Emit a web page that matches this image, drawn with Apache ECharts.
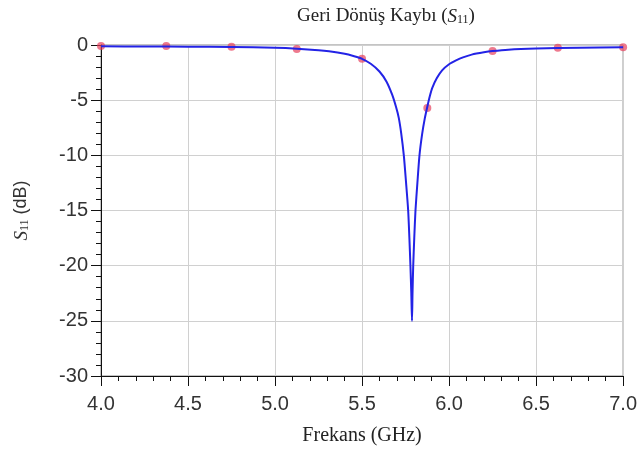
<!DOCTYPE html>
<html><head><meta charset="utf-8">
<script src="https://cdn.jsdelivr.net/npm/echarts@6/dist/echarts.min.js"></script>
<style>html,body{margin:0;padding:0;background:#fff}#c{width:640px;height:451px}</style>
</head><body><div id="c"></div>
<script>
// Continuous S11 curve (frequency GHz, dB)
const curveFreq = [4.0,4.25,4.5,4.75,5.0,5.125,5.25,5.31,5.4,5.45,5.5,5.55,5.6,5.64,5.673,5.695,5.711,5.725,5.74,5.753,5.765,5.772,5.778,5.783,5.787,5.79,5.794,5.8,5.807,5.818,5.83,5.845,5.86,5.875,5.89,5.903,5.93,5.96,6.0,6.04,6.08,6.13,6.2,6.25,6.34,6.5,6.75,7.0];
const curveS11  = [-0.12,-0.13,-0.15,-0.18,-0.26,-0.34,-0.47,-0.57,-0.8,-1.0,-1.25,-1.7,-2.4,-3.3,-4.5,-5.6,-6.6,-8.0,-10.0,-12.5,-15.0,-17.5,-20.0,-22.5,-25.0,-22.5,-20.0,-17.5,-15.0,-12.5,-10.0,-8.1,-6.7,-5.6,-4.6,-3.9,-3.0,-2.3,-1.75,-1.4,-1.12,-0.87,-0.66,-0.55,-0.42,-0.32,-0.25,-0.2];
// Marker points
const markFreq = [4.0,4.375,4.75,5.125,5.5,5.875,6.25,6.625,7.0];
const markS11  = [-0.1,-0.1,-0.15,-0.36,-1.25,-5.7,-0.55,-0.25,-0.2];
const xTicks = [4.0,4.5,5.0,5.5,6.0,6.5,7.0];
const yTicks = [0,-5,-10,-15,-20,-25,-30];

const chart = echarts.init(document.getElementById('c'));
chart.setOption({
  backgroundColor:'#fff',
  animation:false,
  title:{
    text:'{a|Geri Dönüş Kaybı (}{s|S}{b|11}{a|)}',
    left:381, textAlign:'center', top:2,
    textStyle:{fontWeight:'normal',rich:{
      a:{fontFamily:'Liberation Serif',fontSize:19,color:'#222'},
      s:{fontFamily:'Liberation Serif',fontStyle:'italic',fontSize:19,color:'#222'},
      b:{fontFamily:'Liberation Serif',fontSize:12,color:'#222',verticalAlign:'bottom',padding:[7,0,0,0]}
    }}
  },
  grid:{left:101,right:15,top:45,bottom:75,show:true,borderColor:'#888',borderWidth:1},
  xAxis:{
    type:'value',min:4,max:7,interval:0.5,
    name:'Frekans (GHz)',nameLocation:'middle',nameGap:50,
    nameTextStyle:{fontFamily:'Liberation Serif',fontSize:20,color:'#222'},
    axisLine:{onZero:false,lineStyle:{color:'#111',width:1}},
    axisTick:{show:true,inside:false,length:10,lineStyle:{color:'#111'}},
    minorTick:{show:true,splitNumber:5,length:5,lineStyle:{color:'#111'}},
    axisLabel:{fontFamily:'Liberation Sans',fontSize:20,color:'#333',margin:18,
      formatter:v=>{const t=xTicks.find(x=>Math.abs(x-v)<1e-6);return t!==undefined?t.toFixed(1):'';}},
    splitLine:{show:true,lineStyle:{color:'#d0d0d0'}}
  },
  yAxis:{
    type:'value',min:-30,max:0,interval:5,
    name:'{s|S}{b|11}{a| (dB)}',nameLocation:'middle',nameGap:70,nameRotate:90,
    nameTextStyle:{rich:{
      a:{fontFamily:'Liberation Sans',fontSize:18,color:'#333'},
      s:{fontFamily:'Liberation Serif',fontStyle:'italic',fontSize:19,color:'#333'},
      b:{fontFamily:'Liberation Serif',fontSize:12,color:'#333',verticalAlign:'bottom',padding:[7,0,0,0]}
    }},
    axisLine:{show:true,onZero:false,lineStyle:{color:'#111',width:1}},
    axisTick:{show:true,inside:false,length:10,lineStyle:{color:'#111'}},
    minorTick:{show:true,splitNumber:5,length:5,lineStyle:{color:'#111'}},
    axisLabel:{fontFamily:'Liberation Sans',fontSize:20,color:'#333',margin:13,
      formatter:v=>yTicks.includes(v)?String(v):''},
    splitLine:{show:true,lineStyle:{color:'#d0d0d0'}}
  },
  series:[
    {type:'scatter',data:markFreq.map((f,i)=>[f,markS11[i]]),symbol:'circle',symbolSize:8,
      itemStyle:{color:'rgba(230,60,90,0.85)'},z:2},
    {type:'line',data:curveFreq.map((f,i)=>[f,curveS11[i]]),showSymbol:false,smooth:0.25,
      lineStyle:{color:'#2323e6',width:2},z:3}
  ]
});
</script></body></html>
